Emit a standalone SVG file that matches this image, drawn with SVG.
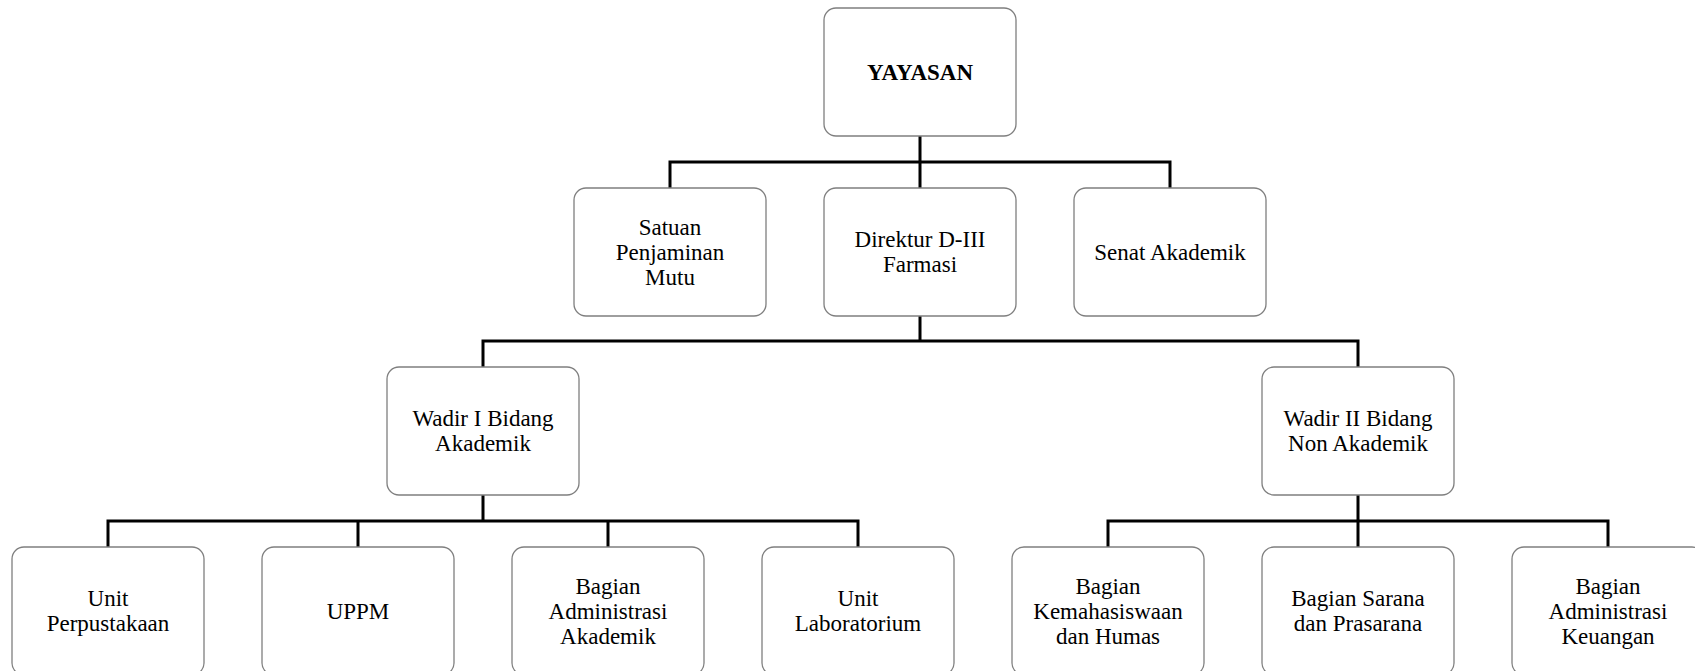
<svg xmlns="http://www.w3.org/2000/svg" width="1695" height="671" viewBox="0 0 1695 671">
<style>
.box{fill:#fff;stroke:#7f7f7f;stroke-width:1.3}
.t{font-family:"Liberation Serif","Times New Roman",serif;font-size:23px;fill:#000;text-anchor:middle}
.b{font-weight:bold}
.c{fill:none;stroke:#000;stroke-width:3;stroke-linejoin:miter}
</style>
<rect width="1695" height="671" fill="#fff"/>
<g id="connectors">
<path class="c" d="M920 136 V188 M670 188 V162 H1170 V188"/>
<path class="c" d="M920 316 V341 M483 367 V341 H1358 V367"/>
<path class="c" d="M483 495 V521 M108 547 V521 H858 V547 M358 521 V547 M608 521 V547"/>
<path class="c" d="M1358 495 V547 M1108 547 V521 H1608 V547"/>
</g>
<g id="yayasan"><rect class="box" x="824" y="8" width="192" height="128" rx="12"/><text class="t b" x="920" y="80">YAYASAN</text></g>
<g id="spm"><rect class="box" x="574" y="188" width="192" height="128" rx="12"/><text class="t" x="670" y="235">Satuan</text><text class="t" x="670" y="260">Penjaminan</text><text class="t" x="670" y="285">Mutu</text></g>
<g id="direktur"><rect class="box" x="824" y="188" width="192" height="128" rx="12"/><text class="t" x="920" y="247">Direktur D-III</text><text class="t" x="920" y="272">Farmasi</text></g>
<g id="senat"><rect class="box" x="1074" y="188" width="192" height="128" rx="12"/><text class="t" x="1170" y="260">Senat Akademik</text></g>
<g id="wadir1"><rect class="box" x="387" y="367" width="192" height="128" rx="12"/><text class="t" x="483" y="426">Wadir I Bidang</text><text class="t" x="483" y="451">Akademik</text></g>
<g id="wadir2"><rect class="box" x="1262" y="367" width="192" height="128" rx="12"/><text class="t" x="1358" y="426">Wadir II Bidang</text><text class="t" x="1358" y="451">Non Akademik</text></g>
<g id="perpus"><rect class="box" x="12" y="547" width="192" height="128" rx="12"/><text class="t" x="108" y="606">Unit</text><text class="t" x="108" y="631">Perpustakaan</text></g>
<g id="uppm"><rect class="box" x="262" y="547" width="192" height="128" rx="12"/><text class="t" x="358" y="619">UPPM</text></g>
<g id="adm-akad"><rect class="box" x="512" y="547" width="192" height="128" rx="12"/><text class="t" x="608" y="594">Bagian</text><text class="t" x="608" y="619">Administrasi</text><text class="t" x="608" y="644">Akademik</text></g>
<g id="lab"><rect class="box" x="762" y="547" width="192" height="128" rx="12"/><text class="t" x="858" y="606">Unit</text><text class="t" x="858" y="631">Laboratorium</text></g>
<g id="kemahasiswaan"><rect class="box" x="1012" y="547" width="192" height="128" rx="12"/><text class="t" x="1108" y="594">Bagian</text><text class="t" x="1108" y="619">Kemahasiswaan</text><text class="t" x="1108" y="644">dan Humas</text></g>
<g id="sarana"><rect class="box" x="1262" y="547" width="192" height="128" rx="12"/><text class="t" x="1358" y="606">Bagian Sarana</text><text class="t" x="1358" y="631">dan Prasarana</text></g>
<g id="keuangan"><rect class="box" x="1512" y="547" width="192" height="128" rx="12"/><text class="t" x="1608" y="594">Bagian</text><text class="t" x="1608" y="619">Administrasi</text><text class="t" x="1608" y="644">Keuangan</text></g>
</svg>
